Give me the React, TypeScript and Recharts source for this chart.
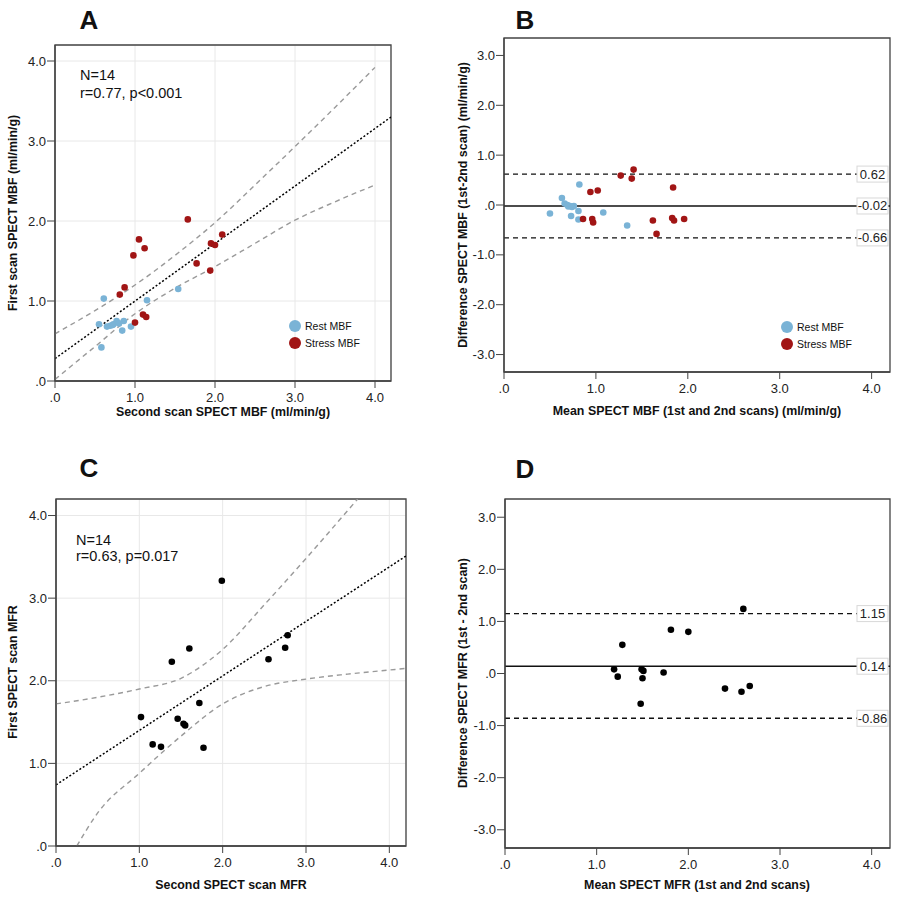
import React from "react";
import {
  ComposedChart,
  Scatter,
  Line,
  XAxis,
  YAxis,
  CartesianGrid,
  ReferenceArea,
  ReferenceLine,
} from "recharts";

const FONT = "Arial, 'Liberation Sans', Helvetica, sans-serif";
const BLUE = "#7ab3d6";
const RED = "#a11515";
const AXIS = "#444";

// Panel A: second scan vs first scan MBF
const restA_second = [0.61, 1.15, 1.54, 0.55, 0.65, 0.69, 0.73, 0.77, 0.86, 0.84, 0.95, 0.58, 0.8, 0.72];
const restA_first = [1.03, 1.01, 1.15, 0.71, 0.68, 0.69, 0.71, 0.75, 0.75, 0.63, 0.68, 0.42, 0.72, 0.7];
const stressA_second = [1.66, 1.05, 1.12, 0.98, 2.09, 1.95, 2.0, 1.77, 1.94, 0.87, 0.81, 1.1, 1.14, 1.0];
const stressA_first = [2.02, 1.77, 1.66, 1.57, 1.83, 1.72, 1.7, 1.47, 1.38, 1.17, 1.08, 0.83, 0.8, 0.73];
const regA_x = [0, 4.2];
const regA_y = [0.28, 3.3];
const ciA_x = [0, 0.5, 1, 1.5, 2, 2.5, 3, 3.5, 4];
const ciA_upper = [0.59, 0.88, 1.2, 1.57, 1.98, 2.45, 2.93, 3.42, 3.92];
const ciA_lower = [0.02, 0.43, 0.84, 1.16, 1.43, 1.72, 2.01, 2.24, 2.45];

// Panel B: Bland-Altman MBF
const restB_mean = [0.5, 0.63, 0.66, 0.69, 0.72, 0.76, 0.73, 0.82, 0.81, 0.81, 1.08, 1.34, 0.7, 0.74];
const restB_diff = [-0.17, 0.14, 0.03, 0.0, -0.02, -0.02, -0.22, 0.41, -0.12, -0.29, -0.15, -0.41, -0.03, -0.04];
const stressB_mean = [0.86, 0.96, 0.97, 0.94, 1.02, 1.27, 1.41, 1.39, 1.62, 1.66, 1.84, 1.83, 1.85, 1.96];
const stressB_diff = [-0.28, -0.28, -0.35, 0.26, 0.29, 0.59, 0.71, 0.53, -0.31, -0.58, 0.35, -0.26, -0.31, -0.28];
const limitsB = { upper: 0.62, mean: -0.02, lower: -0.66 };

// Panel C: MFR
const mfrC_second = [1.99, 1.6, 1.39, 2.55, 2.75, 2.78, 1.72, 1.02, 1.46, 1.55, 1.16, 1.26, 1.77, 1.53];
const mfrC_first = [3.21, 2.39, 2.23, 2.26, 2.4, 2.55, 1.73, 1.56, 1.54, 1.46, 1.23, 1.2, 1.19, 1.48];
const regC_x = [0, 4.2];
const regC_y = [0.74, 3.51];
const ciC_upper_x = [0, 0.5, 1, 1.5, 2, 2.5, 3, 3.5, 3.62];
const ciC_upper = [1.72, 1.8, 1.9, 2.03, 2.38, 2.92, 3.48, 4.06, 4.2];
const ciC_lower_x = [0.25, 0.5, 1, 1.5, 2, 2.5, 3, 3.5, 4, 4.2];
const ciC_lower = [0, 0.4, 0.88, 1.33, 1.72, 1.93, 2.02, 2.08, 2.13, 2.15];

// Panel D: Bland-Altman MFR
const mfrD_mean = [2.6, 1.81, 2.0, 1.28, 1.19, 1.23, 1.49, 1.5, 1.73, 1.48, 2.4, 2.58, 2.67, 1.51];
const mfrD_diff = [1.24, 0.84, 0.8, 0.55, 0.08, -0.06, 0.08, -0.09, 0.02, -0.58, -0.29, -0.35, -0.24, 0.05];
const limitsD = { upper: 1.15, mean: 0.14, lower: -0.86 };

const posTicks = [0, 1, 2, 3, 4];
const diffTicks = [-3, -2, -1, 0, 1, 2, 3];

const zip = (xs: number[], ys: number[]) => xs.map((x, i) => ({ x, y: ys[i] }));
const fmt = (v: number) => (v === 0 ? ".0" : (v < 0 ? "-" : "") + Math.abs(v).toFixed(1));

const dot = (fill: string, r: number) => (p: any) =>
  <circle cx={p.cx} cy={p.cy} r={r} fill={fill} />;

const XTick = (p: any) => (
  <text x={p.x} y={p.y + 12} textAnchor="middle" fontSize={13} fontFamily={FONT} fill="#222">
    {fmt(p.payload.value)}
  </text>
);

const YTick = (p: any) => (
  <text x={p.x + 1} y={p.y} textAnchor="end" dominantBaseline="central" fontSize={13} fontFamily={FONT} fill="#222">
    {fmt(p.payload.value)}
  </text>
);

const BoxLabel = ({ viewBox, value }: any) => {
  const x = viewBox.x + viewBox.width - 33;
  const y = viewBox.y;
  return (
    <g>
      <rect x={x} y={y - 8} width={31} height={16} fill="#fff" stroke="#d8d8d8" />
      <text x={x + 15.5} y={y} dominantBaseline="central" textAnchor="middle" fontSize={13} fontFamily={FONT} fill="#222">
        {value}
      </text>
    </g>
  );
};

const Title = ({ x, y, children, rotate = false, size = 12.4 }: any) => (
  <text
    x={x}
    y={y}
    textAnchor="middle"
    dominantBaseline="central"
    fontSize={size}
    fontWeight="bold"
    fontFamily={FONT}
    fill="#111"
    transform={rotate ? `rotate(-90, ${x}, ${y})` : undefined}
  >
    {children}
  </text>
);

const Note = ({ x, y, children, size = 14.5 }: any) => (
  <text x={x} y={y} fontSize={size} fontFamily={FONT} fill="#111">
    {children}
  </text>
);

function Axes({ yDomain, yTicks, xH, yW, grid }: any) {
  return [
    grid ? <CartesianGrid key="g" stroke="#e8e8e8" /> : null,
    <XAxis
      key="x"
      type="number"
      dataKey="x"
      domain={[0, 4.2]}
      ticks={posTicks}
      height={xH}
      tickSize={7}
      axisLine={{ stroke: AXIS, strokeWidth: 1.3 }}
      tickLine={{ stroke: AXIS }}
      tick={XTick}
      allowDataOverflow
    />,
    <YAxis
      key="y"
      type="number"
      dataKey="y"
      domain={yDomain}
      ticks={yTicks}
      width={yW}
      tickSize={8}
      axisLine={{ stroke: AXIS, strokeWidth: 1.3 }}
      tickLine={{ stroke: AXIS }}
      tick={YTick}
      allowDataOverflow
    />,
    <ReferenceArea
      key="frame"
      x1={0}
      x2={4.2}
      y1={yDomain[0]}
      y2={yDomain[1]}
      fill="none"
      stroke={AXIS}
      strokeWidth={1.3}
    />,
  ];
}

const lineProps = { dot: false, activeDot: false, isAnimationActive: false, legendType: "none" as const };

function PanelA() {
  return (
    <ComposedChart width={420} height={440} margin={{ top: 45, right: 29, left: 0, bottom: 0 }}>
      {Axes({ yDomain: [0, 4.2], yTicks: posTicks, xH: 59, yW: 55, grid: true })}
      <Line type="monotone" data={zip(ciA_x, ciA_upper)} dataKey="y" stroke="#9a9a9a" strokeWidth={1.4} strokeDasharray="5 4" {...lineProps} />
      <Line type="monotone" data={zip(ciA_x, ciA_lower)} dataKey="y" stroke="#9a9a9a" strokeWidth={1.4} strokeDasharray="5 4" {...lineProps} />
      <Line data={zip(regA_x, regA_y)} dataKey="y" stroke="#000" strokeWidth={1.5} strokeDasharray="2 2" {...lineProps} />
      <Scatter data={zip(restA_second, restA_first)} shape={dot(BLUE, 3.3)} isAnimationActive={false} />
      <Scatter data={zip(stressA_second, stressA_first)} shape={dot(RED, 3.3)} isAnimationActive={false} />
      <Note x={80} y={80}>N=14</Note>
      <Note x={80} y={98}>r=0.77, p&lt;0.001</Note>
      <circle cx={295} cy={326} r={6} fill={BLUE} />
      <circle cx={295} cy={343} r={6} fill={RED} />
      <Note x={305} y={329.5} size={10.5}>Rest MBF</Note>
      <Note x={305} y={346.5} size={10.5}>Stress MBF</Note>
      <Title x={89} y={20} size={26}>A</Title>
      <Title x={13} y={213} rotate>First scan SPECT MBF (ml/min/g)</Title>
      <Title x={223} y={412}>Second scan SPECT MBF (ml/min/g)</Title>
    </ComposedChart>
  );
}

function limitLines(lim: any) {
  const lab = (v: number) => (v < 0 ? "-" : "") + Math.abs(v).toFixed(2);
  return [
    <ReferenceLine key="u" y={lim.upper} stroke="#111" strokeWidth={1.4} strokeDasharray="5 4"
      label={(p: any) => <BoxLabel viewBox={p.viewBox} value={lab(lim.upper)} />} />,
    <ReferenceLine key="m" y={lim.mean} stroke="#111" strokeWidth={1.4}
      label={(p: any) => <BoxLabel viewBox={p.viewBox} value={lab(lim.mean)} />} />,
    <ReferenceLine key="l" y={lim.lower} stroke="#111" strokeWidth={1.4} strokeDasharray="5 4"
      label={(p: any) => <BoxLabel viewBox={p.viewBox} value={lab(lim.lower)} />} />,
  ];
}

function PanelB() {
  return (
    <ComposedChart width={447} height={440} margin={{ top: 38, right: 7, left: 0, bottom: 0 }}>
      {Axes({ yDomain: [-3.35, 3.35], yTicks: diffTicks, xH: 68, yW: 54, grid: false })}
      {limitLines(limitsB)}
      <Scatter data={zip(restB_mean, restB_diff)} shape={dot(BLUE, 3.3)} isAnimationActive={false} />
      <Scatter data={zip(stressB_mean, stressB_diff)} shape={dot(RED, 3.3)} isAnimationActive={false} />
      <circle cx={337} cy={327} r={6} fill={BLUE} />
      <circle cx={337} cy={344} r={6} fill={RED} />
      <Note x={347} y={330.5} size={10.5}>Rest MBF</Note>
      <Note x={347} y={347.5} size={10.5}>Stress MBF</Note>
      <Title x={75} y={20} size={26}>B</Title>
      <Title x={13} y={205} rotate>Difference SPECT MBF (1st-2nd scan) (ml/min/g)</Title>
      <Title x={247} y={411}>Mean SPECT MBF (1st and 2nd scans) (ml/min/g)</Title>
    </ComposedChart>
  );
}

function PanelC() {
  return (
    <ComposedChart width={420} height={460} margin={{ top: 59, right: 14, left: 0, bottom: 0 }}>
      {Axes({ yDomain: [0, 4.2], yTicks: posTicks, xH: 54, yW: 56, grid: true })}
      <Line type="monotone" data={zip(ciC_upper_x, ciC_upper)} dataKey="y" stroke="#9a9a9a" strokeWidth={1.4} strokeDasharray="5 4" {...lineProps} />
      <Line type="monotone" data={zip(ciC_lower_x, ciC_lower)} dataKey="y" stroke="#9a9a9a" strokeWidth={1.4} strokeDasharray="5 4" {...lineProps} />
      <Line data={zip(regC_x, regC_y)} dataKey="y" stroke="#000" strokeWidth={1.5} strokeDasharray="2 2" {...lineProps} />
      <Scatter data={zip(mfrC_second, mfrC_first)} shape={dot("#000", 3.3)} isAnimationActive={false} />
      <Note x={76} y={105}>N=14</Note>
      <Note x={76} y={121}>r=0.63, p=0.017</Note>
      <Title x={89} y={28} size={26}>C</Title>
      <Title x={13} y={232} rotate>First SPECT scan MFR</Title>
      <Title x={231} y={445}>Second SPECT scan MFR</Title>
    </ComposedChart>
  );
}

function PanelD() {
  return (
    <ComposedChart width={447} height={460} margin={{ top: 59, right: 7, left: 0, bottom: 0 }}>
      {Axes({ yDomain: [-3.35, 3.35], yTicks: diffTicks, xH: 52, yW: 55, grid: false })}
      {limitLines(limitsD)}
      <Scatter data={zip(mfrD_mean, mfrD_diff)} shape={dot("#000", 3.3)} isAnimationActive={false} />
      <Title x={75} y={29} size={26}>D</Title>
      <Title x={13} y={233} rotate>Difference SPECT MFR (1st - 2nd scan)</Title>
      <Title x={247} y={445}>Mean SPECT MFR (1st and 2nd scans)</Title>
    </ComposedChart>
  );
}

export default function App() {
  return (
    <div style={{ position: "absolute", left: 0, top: 0, width: 897, height: 900, background: "#fff" }}>
      <div style={{ position: "absolute", left: 0, top: 0 }}>
        <PanelA />
      </div>
      <div style={{ position: "absolute", left: 450, top: 0 }}>
        <PanelB />
      </div>
      <div style={{ position: "absolute", left: 0, top: 440 }}>
        <PanelC />
      </div>
      <div style={{ position: "absolute", left: 450, top: 440 }}>
        <PanelD />
      </div>
    </div>
  );
}
